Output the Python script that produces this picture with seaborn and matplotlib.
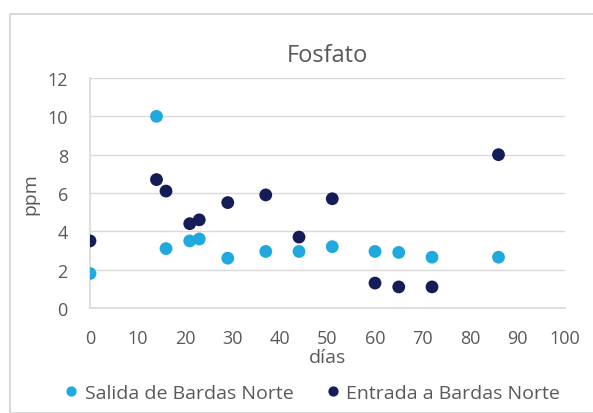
import matplotlib
matplotlib.use("Agg")
import matplotlib.pyplot as plt
import seaborn as sns
import pandas as pd
from matplotlib.patches import Rectangle

dias = [0, 14, 16, 21, 23, 29, 37, 44, 51, 60, 65, 72, 86]
salida = [1.8, 10.0, 3.1, 3.5, 3.6, 2.6, 2.95, 2.95, 3.2, 2.95, 2.9, 2.65, 2.65]
entrada = [3.5, 6.7, 6.1, 4.4, 4.6, 5.5, 5.9, 3.7, 5.7, 1.3, 1.1, 1.1, 8.0]
series_names = ["Salida de Bardas Norte", "Entrada a Bardas Norte"]
colors = ["#1fa9df", "#141d57"]
x_ticks = list(range(0, 101, 10))
y_ticks = list(range(0, 13, 2))

df = pd.concat([
    pd.DataFrame({"días": dias, "ppm": salida, "serie": series_names[0]}),
    pd.DataFrame({"días": dias, "ppm": entrada, "serie": series_names[1]}),
])

sns.set_theme(style="white")
plt.rcParams['font.family'] = ['Open Sans', 'DejaVu Sans']
txt = "#595959"

fig = plt.figure(figsize=(5.93, 4.14), dpi=100)
fig.patches.append(Rectangle((10/593, 0), 1 - 10/593 + 0.01, 1 - 15/414,
                             transform=fig.transFigure, fill=False,
                             edgecolor="#d9d9d9", linewidth=1.5))
ax = fig.add_axes([90/593, 1 - 309/414, 475/593, 230/414])
sns.scatterplot(data=df, x="días", y="ppm", hue="serie", palette=colors,
                s=85, edgecolor="none", ax=ax, legend=True, zorder=3)

ax.set_xlim(0, 100)
ax.set_ylim(0, 12)
ax.set_xticks(x_ticks)
ax.set_yticks(y_ticks)
ax.yaxis.grid(True, color="#d9d9d9", linewidth=1)
ax.xaxis.grid(False)
for s in ["top", "right"]:
    ax.spines[s].set_visible(False)
ax.spines["left"].set_color("#d9d9d9")
ax.spines["bottom"].set_color("#d9d9d9")
ax.tick_params(axis="both", colors=txt, labelsize=13, length=0)
ax.tick_params(axis="y", pad=16)
ax.tick_params(axis="x", pad=15)
ax.set_xlabel("días", color=txt, fontsize=14, labelpad=1)
ax.set_ylabel("ppm", color=txt, fontsize=14, labelpad=6)
ax.set_title("Fosfato", color=txt, fontsize=17, pad=12)
for t in ax.get_xticklabels() + ax.get_yticklabels():
    t.set_clip_on(False)

handles, labels = ax.get_legend_handles_labels()
ax.legend(handles, labels, loc="center", bbox_to_anchor=(0.455, -0.37),
          ncol=2, frameon=False, fontsize=14, labelcolor=txt,
          handletextpad=-0.3, columnspacing=1.0, markerscale=0.8)

fig.savefig("out.png", dpi=100)
